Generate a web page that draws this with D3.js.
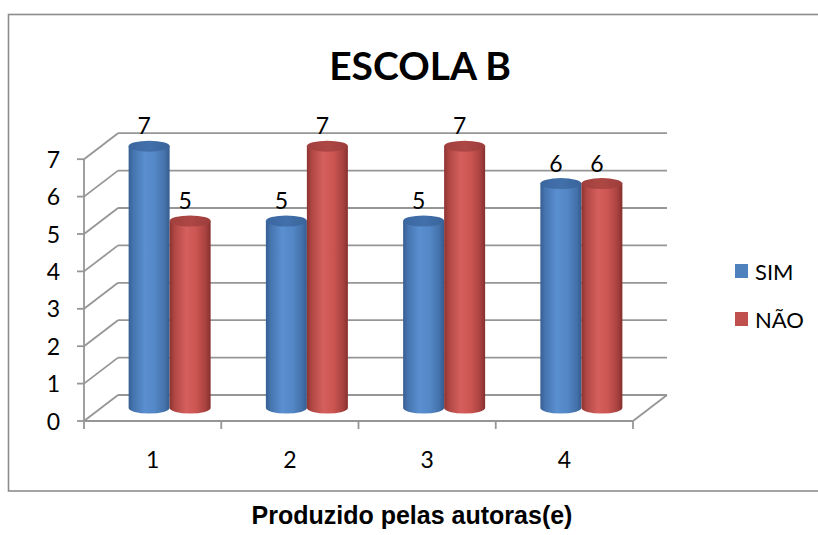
<!DOCTYPE html>
<html>
<head>
<meta charset="utf-8">
<script src="https://cdn.jsdelivr.net/npm/d3@7/dist/d3.min.js"></script>
<style>
  html, body { margin: 0; padding: 0; background: #fff; }
  svg { display: block; }
</style>
</head>
<body>
<svg id="chart" width="818" height="535"></svg>
<script>
// ---- data ----
const categories = ["1", "2", "3", "4"];
const seriesNames = ["SIM", "NÃO"];
const simValues = [7, 5, 5, 6];
const naoValues = [5, 7, 7, 6];
const yTicks = [0, 1, 2, 3, 4, 5, 6, 7];
const title = "ESCOLA B";
const caption = "Produzido pelas autoras(e)";

// ---- layout ----
const svg = d3.select("#chart");
const font = "Lato, 'Open Sans', sans-serif";
const gridColor = "#969696";
const depthX = 34, depthY = -26;          // 3D depth offset (front -> back)
const frontLeft = 84, frontRight = 633, frontBase = 421;
const unit = 37.4;
const labelSize = 23;

const x = d3.scaleBand().domain(categories).range([frontLeft, frontRight]);
const yFront = d3.scaleLinear().domain([0, 7]).range([frontBase, frontBase - 7 * unit]);
const yOff = v => yFront(v) + depthY;      // back wall
const yMid = v => yFront(v) + depthY / 2;  // bar depth

// frame
svg.append("rect")
  .attr("x", 8.5).attr("y", 14.5).attr("width", 830).attr("height", 476.5)
  .attr("fill", "#fff").attr("stroke", "#8c8c8c").attr("stroke-width", 1.6);

// title
svg.append("text")
  .attr("x", 420).attr("y", 80)
  .attr("text-anchor", "middle")
  .attr("font-family", font).attr("font-weight", "bold").attr("font-size", 39)
  .attr("fill", "#000").text(title);

const g = svg.append("g");

// back wall gridlines and left wall diagonals
yTicks.forEach(v => {
  g.append("line")
    .attr("x1", frontLeft + depthX).attr("x2", frontRight + depthX)
    .attr("y1", yOff(v)).attr("y2", yOff(v))
    .attr("stroke", gridColor).attr("stroke-width", 1.8);
  g.append("line")
    .attr("x1", frontLeft).attr("y1", yFront(v))
    .attr("x2", frontLeft + depthX).attr("y2", yOff(v))
    .attr("stroke", gridColor).attr("stroke-width", 1.8);
});

// floor: front edge and right edge
g.append("line")
  .attr("x1", frontLeft).attr("x2", frontRight)
  .attr("y1", frontBase).attr("y2", frontBase)
  .attr("stroke", gridColor).attr("stroke-width", 1.8);
g.append("line")
  .attr("x1", frontRight).attr("y1", frontBase)
  .attr("x2", frontRight + depthX).attr("y2", yOff(0))
  .attr("stroke", gridColor).attr("stroke-width", 1.8);

// y axis (front)
g.append("line")
  .attr("x1", frontLeft).attr("x2", frontLeft)
  .attr("y1", yFront(0)).attr("y2", yFront(7))
  .attr("stroke", gridColor).attr("stroke-width", 1.8);
yTicks.forEach(v => {
  g.append("line")
    .attr("x1", frontLeft - 7).attr("x2", frontLeft)
    .attr("y1", yFront(v)).attr("y2", yFront(v))
    .attr("stroke", gridColor).attr("stroke-width", 1.8);
  g.append("text")
    .attr("x", 60).attr("y", yFront(v) + 8.5)
    .attr("text-anchor", "end")
    .attr("font-family", font).attr("font-size", labelSize).attr("fill", "#000")
    .text(v);
});

// x axis ticks
const xTickPos = categories.map(c => x(c)).concat([x(categories[categories.length - 1]) + x.bandwidth()]);
xTickPos.forEach(px => {
  g.append("line")
    .attr("x1", px).attr("x2", px)
    .attr("y1", frontBase).attr("y2", frontBase + 8)
    .attr("stroke", gridColor).attr("stroke-width", 1.8);
});
categories.forEach(c => {
  g.append("text")
    .attr("x", x(c) + x.bandwidth() / 2).attr("y", 468)
    .attr("text-anchor", "middle")
    .attr("font-family", font).attr("font-size", labelSize).attr("fill", "#000")
    .text(c);
});

// gradients
const defs = svg.append("defs");
function makeGrad(id, stops) {
  const lg = defs.append("linearGradient").attr("id", id)
    .attr("x1", "0%").attr("x2", "100%").attr("y1", "0%").attr("y2", "0%");
  stops.forEach(s => lg.append("stop").attr("offset", s[0]).attr("stop-color", s[1]));
}
makeGrad("bodyBlue", [["0%", "#365f93"], ["12%", "#4675b0"], ["40%", "#5a8fd0"], ["65%", "#5387c6"], ["88%", "#4472ab"], ["100%", "#355c8e"]]);
makeGrad("bodyRed", [["0%", "#8c3331"], ["12%", "#b04744"], ["40%", "#d45f5c"], ["65%", "#cb5551"], ["88%", "#a84240"], ["100%", "#85302e"]]);
makeGrad("topBlue", [["0%", "#3b67a0"], ["50%", "#4270aa"], ["100%", "#3a649b"]]);
makeGrad("topRed", [["0%", "#a0403e"], ["50%", "#ad4744"], ["100%", "#9c3e3c"]]);

const barW = 41, ry = 5.5;
const series = [
  { name: seriesNames[0], values: simValues, body: "url(#bodyBlue)", top: "url(#topBlue)", legend: "#4f81bd", offset: -1 },
  { name: seriesNames[1], values: naoValues, body: "url(#bodyRed)", top: "url(#topRed)", legend: "#c0504d", offset: 0 }
];

categories.forEach((c, i) => {
  const cx = x(c) + x.bandwidth() / 2 + depthX / 2;
  series.forEach(s => {
    const v = s.values[i];
    const left = cx + s.offset * barW;
    const right = left + barW;
    const center = (left + right) / 2;
    const rx = barW / 2;
    const yTop = yMid(v), yBase = yMid(0);
    g.append("path")
      .attr("d", `M${left},${yTop} L${left},${yBase} A${rx},${ry} 0 0 0 ${right},${yBase} L${right},${yTop} Z`)
      .attr("fill", s.body);
    g.append("ellipse")
      .attr("cx", center).attr("cy", yTop).attr("rx", rx).attr("ry", ry)
      .attr("fill", s.top);
    g.append("text")
      .attr("x", center - 5).attr("y", yTop - 12)
      .attr("text-anchor", "middle")
      .attr("font-family", font).attr("font-size", labelSize).attr("fill", "#000")
      .text(v);
  });
});

// legend
series.forEach((s, i) => {
  const ly = 264 + i * 48;
  svg.append("rect")
    .attr("x", 735).attr("y", ly).attr("width", 13).attr("height", 14)
    .attr("fill", s.legend);
  svg.append("text")
    .attr("x", 755).attr("y", ly + 15.5)
    .attr("font-family", font).attr("font-size", 22).attr("fill", "#000")
    .text(s.name);
});

// caption
svg.append("text")
  .attr("x", 412).attr("y", 524)
  .attr("text-anchor", "middle")
  .attr("font-family", "'Liberation Sans', Arial, sans-serif").attr("font-weight", "bold").attr("font-size", 25)
  .attr("fill", "#000").text(caption);
</script>
</body>
</html>
